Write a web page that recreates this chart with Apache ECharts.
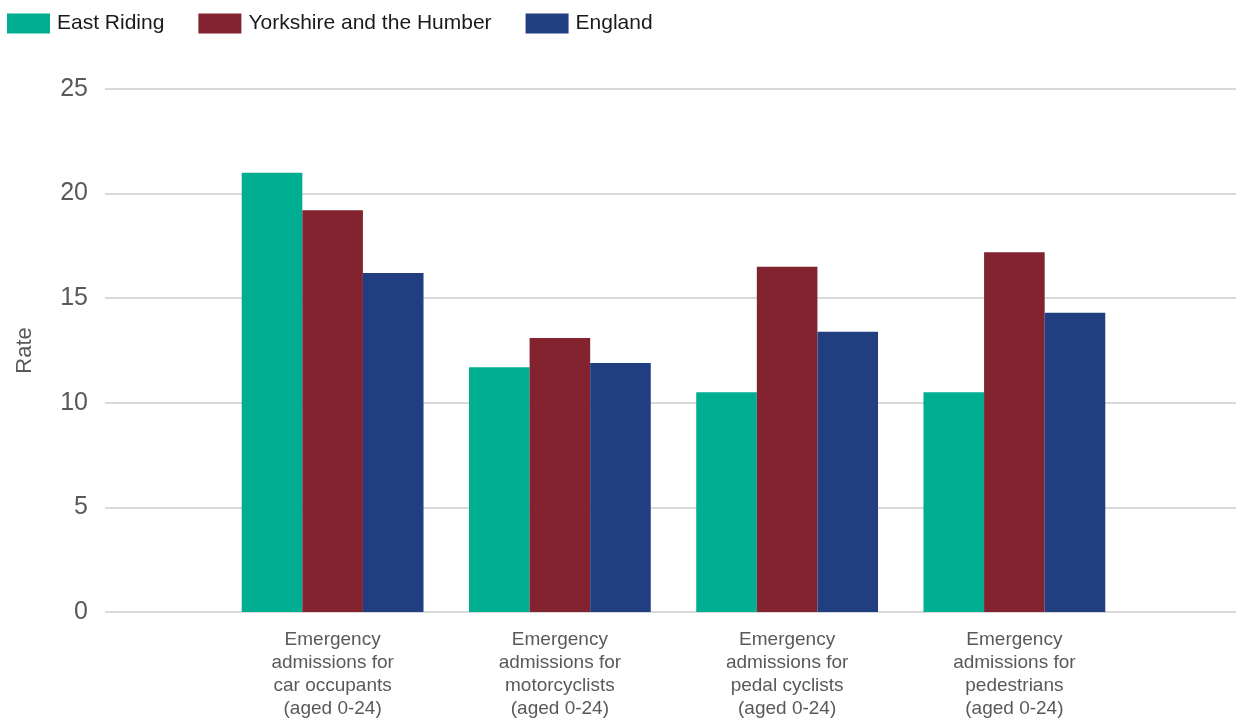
<!DOCTYPE html>
<html>
<head>
<meta charset="utf-8">
<script src="https://cdn.jsdelivr.net/npm/echarts@6/dist/echarts.min.js"></script>
<style>
html,body{margin:0;padding:0;background:#fff;}
#chart{width:1236px;height:718px;}
</style>
</head>
<body>
<div id="chart"></div>
<script>
var categories = [
  "Emergency\nadmissions for\ncar occupants\n(aged 0-24)",
  "Emergency\nadmissions for\nmotorcyclists\n(aged 0-24)",
  "Emergency\nadmissions for\npedal cyclists\n(aged 0-24)",
  "Emergency\nadmissions for\npedestrians\n(aged 0-24)"
];
var seriesNames = ["East Riding", "Yorkshire and the Humber", "England"];
var eastRiding = [21.0, 11.7, 10.5, 10.5];
var yorkshire = [19.2, 13.1, 16.5, 17.2];
var england = [16.2, 11.9, 13.4, 14.3];
var colors = ["#00AF91", "#82232F", "#213F80"];

var chart = echarts.init(document.getElementById('chart'));
var font = 'Liberation Sans, Arial, sans-serif';
var option = {
  animation: false,
  textStyle: {fontFamily: font},
  legend: {
    left: 7, top: 13, padding: 0,
    itemWidth: 43, itemHeight: 20, itemGap: 34,
    icon: 'rect',
    textStyle: {fontSize: 21, color: '#1a1a1a', fontFamily: font, padding: [0,0,0,2]},
    data: seriesNames
  },
  grid: [
    {left: 219, right: 108, top: 89, bottom: 106, outerBoundsMode: 'none', containLabel: false},
    {left: 105, right: 0, top: 89, bottom: 106, outerBoundsMode: 'none', containLabel: false}
  ],
  xAxis: [
    {
      type: 'category', gridIndex: 0, data: categories,
      axisLine: {show: false}, axisTick: {show: false},
      axisLabel: {fontSize: 19, color: '#595959', lineHeight: 23, margin: 16, fontFamily: font, interval: 0}
    },
    {type: 'value', gridIndex: 1, show: false, min: 0, max: 1}
  ],
  yAxis: [
    {type: 'value', gridIndex: 0, min: 0, max: 25, interval: 5, show: false},
    {
      type: 'value', gridIndex: 1, min: 0, max: 25, interval: 5,
      name: 'Rate', nameLocation: 'middle', nameGap: 69, nameRotate: 90,
      nameTextStyle: {fontSize: 22, color: '#595959', fontFamily: font},
      axisLine: {show: false}, axisTick: {show: false},
      axisLabel: {fontSize: 25, color: '#595959', margin: 17, fontFamily: font},
      splitLine: {lineStyle: {color: '#d9d9d9', width: 2}}
    }
  ],
  series: [
    {name: seriesNames[0], type: 'bar', xAxisIndex: 0, yAxisIndex: 0, data: eastRiding,
     itemStyle: {color: colors[0]}, barGap: '0%', barCategoryGap: '20%'},
    {name: seriesNames[1], type: 'bar', xAxisIndex: 0, yAxisIndex: 0, data: yorkshire,
     itemStyle: {color: colors[1]}, barGap: '0%', barCategoryGap: '20%'},
    {name: seriesNames[2], type: 'bar', xAxisIndex: 0, yAxisIndex: 0, data: england,
     itemStyle: {color: colors[2]}, barGap: '0%', barCategoryGap: '20%'}
  ]
};
chart.setOption(option);
</script>
</body>
</html>
